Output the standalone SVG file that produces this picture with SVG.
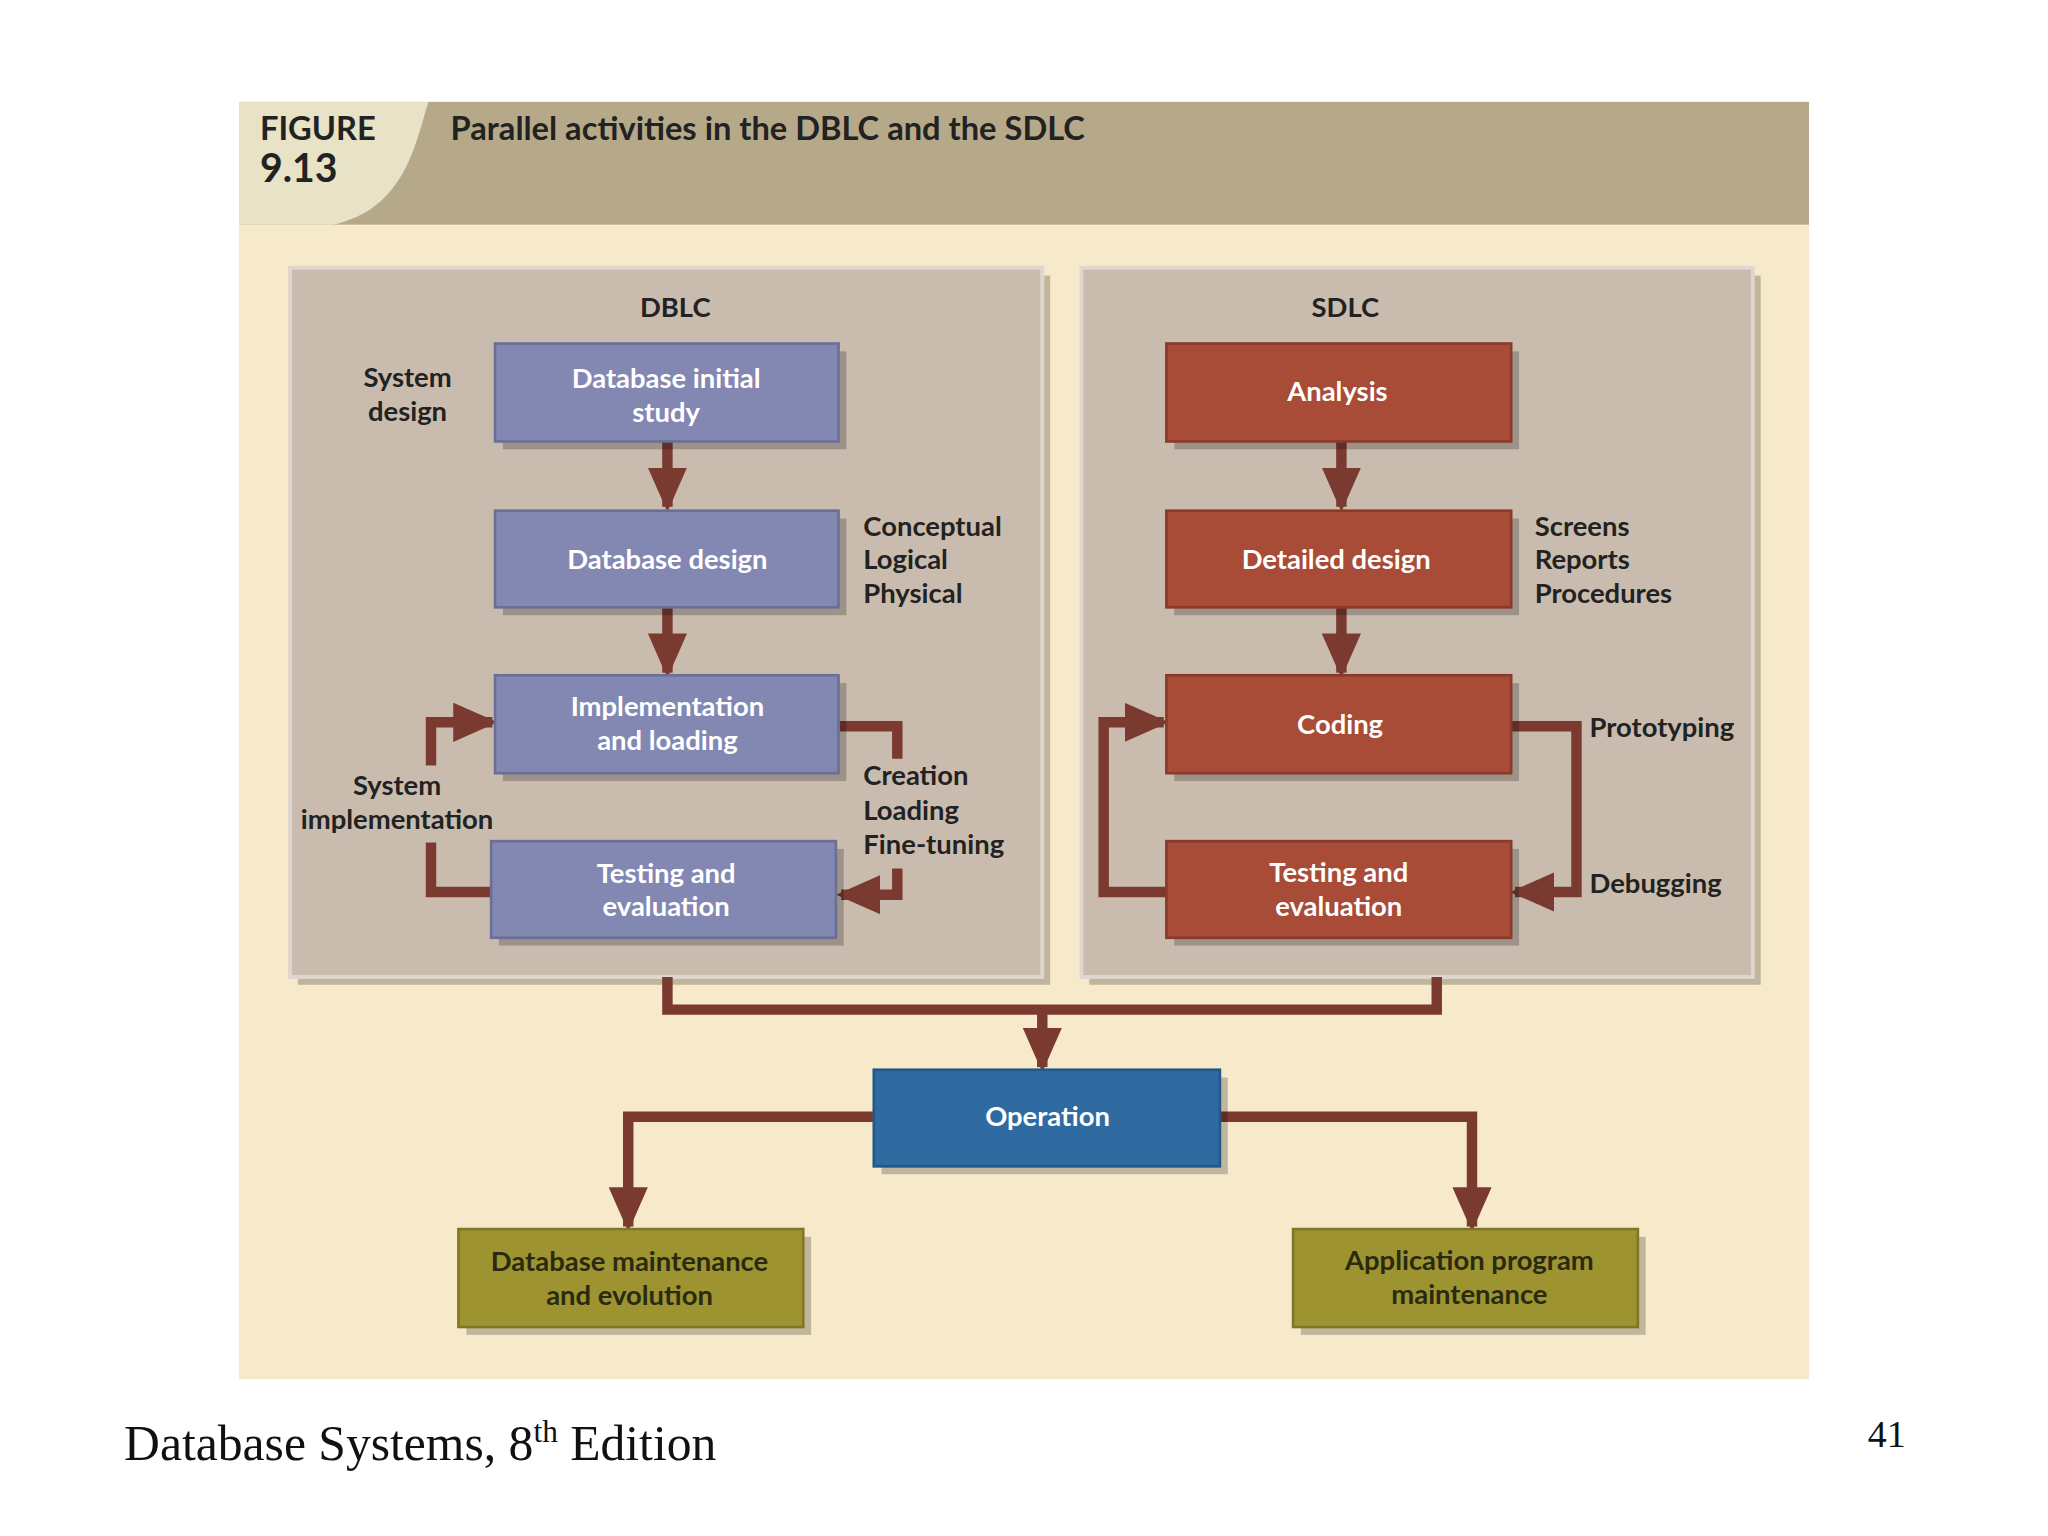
<svg xmlns="http://www.w3.org/2000/svg" width="2048" height="1536" viewBox="0 0 2048 1536">
<defs>
<style>
.t{font-family:Lato,"Liberation Sans",sans-serif;font-weight:bold}
.nt{font-family:Lato,"Liberation Sans",sans-serif;font-weight:bold;fill:#fff;font-size:21px;text-anchor:middle}
.lb{font-family:Lato,"Liberation Sans",sans-serif;font-weight:bold;fill:#222;font-size:21px}
.c{fill:none;stroke:#7b3a2f;stroke-width:8}
.blue{fill:#8388b2;stroke:#6a6f98;stroke-width:2}
.red{fill:#a84b37;stroke:#8a3a2a;stroke-width:2}
.olive{fill:#9d9331;stroke:#7f7724;stroke-width:2}
.op{fill:#2f6aa1;stroke:#24578a;stroke-width:2}
.sh{fill:#000;opacity:0.22}
</style>
<marker id="ah" markerUnits="userSpaceOnUse" markerWidth="34" markerHeight="30" viewBox="0 0 34 30" refX="30" refY="15" orient="auto">
<path d="M0,0 L34,15 L0,30 Z" fill="#7b3a2f"/>
</marker>
</defs>
<rect width="2048" height="1536" fill="#fff"/>
<g transform="scale(1.30612)">
<rect x="183" y="78" width="1202" height="978" fill="#f6eaca"/>
<rect x="183" y="78" width="1202" height="94" fill="#b6a98a"/>
<path d="M183,78 H328 C318,110 310,160 255,172 H183 Z" fill="#e8e2c6"/>
<text class="t" x="199" y="107" font-size="25" fill="#222">FIGURE</text>
<text class="t" x="199" y="139" font-size="30" fill="#222">9.13</text>
<text class="t" x="345" y="107" font-size="25" fill="#222">Parallel activities in the DBLC and the SDLC</text>

<g id="dblc">
<rect x="228" y="211" width="576" height="543" class="sh"/>
<rect x="222" y="205" width="576" height="543" fill="#c9bcae" stroke="#e0d6ce" stroke-width="3"/>
<text class="lb" x="517" y="243" text-anchor="middle">DBLC</text>
</g>
<g id="sdlc">
<rect x="834" y="211" width="514" height="543" class="sh"/>
<rect x="828" y="205" width="514" height="543" fill="#c9bcae" stroke="#e0d6ce" stroke-width="3"/>
<text class="lb" x="1030" y="243" text-anchor="middle">SDLC</text>
</g>

<g id="connectors">
<path class="c" d="M511,338 V388" marker-end="url(#ah)"/>
<path class="c" d="M511,465 V515" marker-end="url(#ah)"/>
<path class="c" d="M1027,338 V388" marker-end="url(#ah)"/>
<path class="c" d="M1027,465 V515" marker-end="url(#ah)"/>
<path class="c" d="M376,683 H330 V645"/>
<path class="c" d="M330,586 V553 H377" marker-end="url(#ah)"/>
<path class="c" d="M643,556 H687 V581"/>
<path class="c" d="M687,665 V685 H644" marker-end="url(#ah)"/>
<path class="c" d="M893,683 H845 V553 H891" marker-end="url(#ah)"/>
<path class="c" d="M1157,556 H1207 V683 H1160" marker-end="url(#ah)"/>
<path class="c" d="M511,748 V773 H1100 V748"/>
<path class="c" d="M798,773 V817" marker-end="url(#ah)"/>
<path class="c" d="M669,855 H481 V939" marker-end="url(#ah)"/>
<path class="c" d="M934,855 H1127 V939" marker-end="url(#ah)"/>
</g>

<g id="n1"><rect x="385" y="269" width="263" height="75" class="sh"/><rect x="379" y="263" width="263" height="75" class="blue"/>
<text class="nt" x="510" y="297">Database initial</text><text class="nt" x="510" y="323">study</text></g>
<g id="n2"><rect x="385" y="397" width="263" height="74" class="sh"/><rect x="379" y="391" width="263" height="74" class="blue"/>
<text class="nt" x="511" y="436">Database design</text></g>
<g id="n3"><rect x="385" y="523" width="263" height="75" class="sh"/><rect x="379" y="517" width="263" height="75" class="blue"/>
<text class="nt" x="511" y="548">Implementation</text><text class="nt" x="511" y="574">and loading</text></g>
<g id="n4"><rect x="382" y="650" width="264" height="74" class="sh"/><rect x="376" y="644" width="264" height="74" class="blue"/>
<text class="nt" x="510" y="676">Testing and</text><text class="nt" x="510" y="701">evaluation</text></g>

<g id="s1"><rect x="899" y="269" width="264" height="75" class="sh"/><rect x="893" y="263" width="264" height="75" class="red"/>
<text class="nt" x="1024" y="307">Analysis</text></g>
<g id="s2"><rect x="899" y="397" width="264" height="74" class="sh"/><rect x="893" y="391" width="264" height="74" class="red"/>
<text class="nt" x="1023" y="436">Detailed design</text></g>
<g id="s3"><rect x="899" y="523" width="264" height="75" class="sh"/><rect x="893" y="517" width="264" height="75" class="red"/>
<text class="nt" x="1026" y="562">Coding</text></g>
<g id="s4"><rect x="899" y="650" width="264" height="74" class="sh"/><rect x="893" y="644" width="264" height="74" class="red"/>
<text class="nt" x="1025" y="675">Testing and</text><text class="nt" x="1025" y="701">evaluation</text></g>

<g id="op"><rect x="675" y="825" width="265" height="74" class="sh"/><rect x="669" y="819" width="265" height="74" class="op"/>
<text class="nt" x="802" y="862">Operation</text></g>
<g id="m1"><rect x="357" y="947" width="264" height="75" class="sh"/><rect x="351" y="941" width="264" height="75" class="olive"/>
<text class="nt" x="482" y="973" fill="#2a2a10" style="fill:#2a2a10">Database maintenance</text><text class="nt" x="482" y="999" style="fill:#2a2a10">and evolution</text></g>
<g id="m2"><rect x="996" y="947" width="264" height="75" class="sh"/><rect x="990" y="941" width="264" height="75" class="olive"/>
<text class="nt" x="1125" y="972" style="fill:#2a2a10">Application program</text><text class="nt" x="1125" y="998" style="fill:#2a2a10">maintenance</text></g>

<g id="labels">
<text class="lb" x="312" y="296" text-anchor="middle">System</text>
<text class="lb" x="312" y="322" text-anchor="middle">design</text>
<text class="lb" x="661" y="410">Conceptual</text>
<text class="lb" x="661" y="436">Logical</text>
<text class="lb" x="661" y="462">Physical</text>
<text class="lb" x="304" y="609" text-anchor="middle">System</text>
<text class="lb" x="304" y="635" text-anchor="middle">implementation</text>
<text class="lb" x="661" y="601">Creation</text>
<text class="lb" x="661" y="628">Loading</text>
<text class="lb" x="661" y="654">Fine-tuning</text>
<text class="lb" x="1175" y="410">Screens</text>
<text class="lb" x="1175" y="436">Reports</text>
<text class="lb" x="1175" y="462">Procedures</text>
<text class="lb" x="1217" y="564">Prototyping</text>
<text class="lb" x="1217" y="684">Debugging</text>
</g>

<text x="95" y="1118" font-family="Liberation Serif,serif" font-size="38" fill="#111">Database Systems, 8<tspan font-size="24" dy="-14">th</tspan><tspan dy="14"> Edition</tspan></text>
<text x="1430" y="1108" font-family="Liberation Serif,serif" font-size="29" fill="#111">41</text>
</g>
</svg>
